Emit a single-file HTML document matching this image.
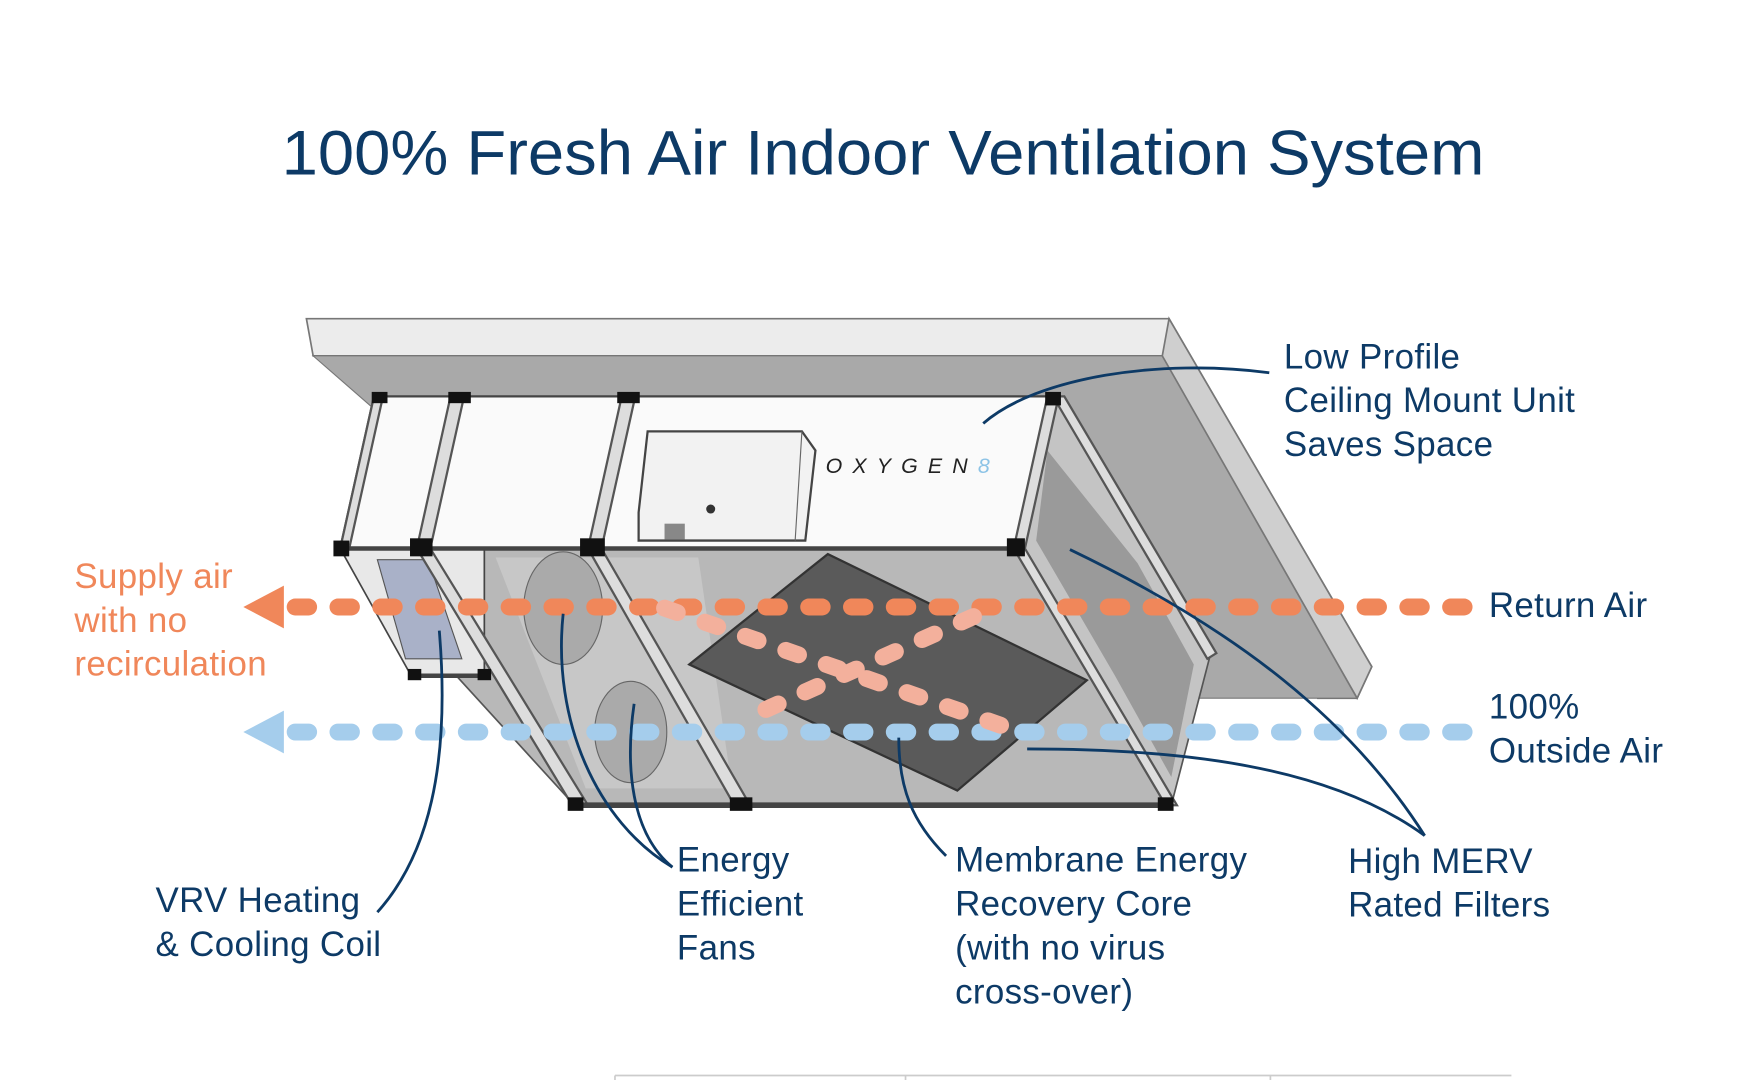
<!DOCTYPE html>
<html><head><meta charset="utf-8"><style>
html,body{margin:0;padding:0;background:#fff;}
svg{display:block;}
text{font-family:"Liberation Sans",sans-serif;}
</style></head><body>
<svg width="1757" height="1080" viewBox="0 0 1560 959" xmlns="http://www.w3.org/2000/svg">
<rect width="1560" height="959" fill="#fff"/>
<text x="250" y="155" font-size="56" fill="#0d3a66" textLength="1068" lengthAdjust="spacingAndGlyphs">100% Fresh Air Indoor Ventilation System</text>

<!-- ceiling slab -->
<polygon points="272,283 1038,283 1218,592 1205,620 1170,620 1032,316 278,316" fill="#ececec" stroke="#777" stroke-width="1.5"/>
<polygon points="278,316 1032,316 1205,620 1060,620 340,370" fill="#a9a9a9" stroke="#777" stroke-width="1"/>
<polygon points="1038,283 1218,592 1205,620 1032,316" fill="#cfcfcf" stroke="#777" stroke-width="1.5"/>

<!-- lower interior -->
<polygon points="302,487 905,487 1040,715 510,715" fill="#b8b8b8" stroke="#555" stroke-width="1.5"/>
<polygon points="440,495 620,495 650,700 520,700" fill="#c7c7c7"/>
<polygon points="905,487 935,352 1075,580 1040,715" fill="#c4c4c4" stroke="#555" stroke-width="1.5"/>
<polygon points="930,400 1010,500 1060,590 1040,690 990,600 920,480" fill="#9a9a9a"/>
<polygon points="302,487 430,487 430,600 365,600" fill="#e8e8e8" stroke="#444" stroke-width="1.5"/>
<polygon points="335,497 380,497 410,585 360,585" fill="#a9b1c8" stroke="#555"/>
<ellipse cx="500" cy="540" rx="35" ry="50" fill="#aaa" stroke="#666"/>
<ellipse cx="560" cy="650" rx="32" ry="45" fill="#aaa" stroke="#666"/>

<!-- membrane core -->
<polygon points="612,590 735,492 965,604 850,702" fill="#5a5a5a" stroke="#333" stroke-width="2"/>

<!-- top white box -->
<polygon points="332,352 935,352 905,487 302,487" fill="#fafafa" stroke="#444" stroke-width="2"/>
<g stroke="#555" stroke-width="2" fill="#ddd">
<polygon points="332,352 340,352 310,487 302,487"/>
<polygon points="400,352 412,352 382,487 370,487"/>
<polygon points="552,352 564,352 534,487 522,487"/>
<polygon points="930,352 940,352 910,487 900,487"/>
<polygon points="370,487 382,487 522,715 508,715"/>
<polygon points="522,487 534,487 666,715 652,715"/>
<polygon points="900,487 910,487 1045,715 1035,715"/>
<polygon points="935,352 945,352 1080,580 1072,585"/>
</g>
<line x1="510" y1="715" x2="1040" y2="715" stroke="#444" stroke-width="5"/>
<line x1="302" y1="487" x2="905" y2="487" stroke="#444" stroke-width="4"/>
<line x1="365" y1="600" x2="430" y2="600" stroke="#444" stroke-width="4"/>
<g fill="#111">
<rect x="330" y="348" width="14" height="10"/><rect x="398" y="348" width="20" height="10"/><rect x="548" y="348" width="20" height="10"/><rect x="928" y="348" width="14" height="12"/>
<rect x="296" y="480" width="14" height="14"/><rect x="364" y="478" width="20" height="16"/><rect x="515" y="478" width="22" height="16"/><rect x="894" y="478" width="16" height="16"/>
<rect x="504" y="708" width="14" height="12"/><rect x="648" y="708" width="20" height="12"/><rect x="1028" y="708" width="14" height="12"/>
<rect x="362" y="594" width="12" height="10"/><rect x="424" y="594" width="12" height="10"/>
</g>
<polygon points="575,383 712,383 724,400 715,480 567,480 567,455" fill="#f2f2f2" stroke="#444" stroke-width="2"/>
<line x1="712" y1="383" x2="706" y2="480" stroke="#666"/>
<circle cx="631" cy="452" r="4" fill="#333"/>
<rect x="590" y="465" width="18" height="14" fill="#888"/>
<text x="733" y="420" font-size="19" font-style="italic" fill="#222" letter-spacing="9">OXYGEN<tspan fill="#8cc3e6">8</tspan></text>

<!-- air streams -->
<line x1="262" y1="539" x2="1300" y2="539" stroke="#f0875a" stroke-width="15" stroke-linecap="round" stroke-dasharray="12 26"/>
<polygon points="216,539 252,520 252,558" fill="#f0875a"/>
<line x1="262" y1="650" x2="1300" y2="650" stroke="#a5cdec" stroke-width="15" stroke-linecap="round" stroke-dasharray="12 26"/>
<polygon points="216,650 252,631 252,669" fill="#a5cdec"/>
<line x1="590" y1="540" x2="900" y2="648" stroke="#f3b09c" stroke-width="15" stroke-linecap="round" stroke-dasharray="12 26"/>
<line x1="680" y1="630" x2="870" y2="545" stroke="#f3b09c" stroke-width="15" stroke-linecap="round" stroke-dasharray="12 26"/>

<!-- leader lines -->
<g stroke="#0d3a66" stroke-width="2.5" fill="none">
<path d="M1127,331 C1030,318 920,335 873,376"/>
<path d="M335,810 C380,760 400,680 390,560"/>
<path d="M597,770 C530,730 490,640 500,545"/>
<path d="M597,770 C560,740 555,680 563,625"/>
<path d="M840,760 C810,730 798,700 798,655"/>
<path d="M1265,742 C1200,640 1100,560 950,488"/>
<path d="M1265,742 C1180,680 1050,665 912,665"/>
</g>

<!-- labels -->
<g font-size="31" fill="#0d3a66" letter-spacing="0.3">
<text x="1140" y="327">Low Profile</text><text x="1140" y="366">Ceiling Mount Unit</text><text x="1140" y="405">Saves Space</text>
<text x="1322" y="548">Return Air</text>
<text x="1322" y="638">100%</text><text x="1322" y="677">Outside Air</text>
<text x="138" y="810">VRV Heating</text><text x="138" y="849">&amp; Cooling Coil</text>
<text x="601" y="774">Energy</text><text x="601" y="813">Efficient</text><text x="601" y="852">Fans</text>
<text x="848" y="774">Membrane Energy</text><text x="848" y="813">Recovery Core</text><text x="848" y="852">(with no virus</text><text x="848" y="891">cross-over)</text>
<text x="1197" y="775">High MERV</text><text x="1197" y="814">Rated Filters</text>
</g>
<g font-size="31" fill="#f0875a" letter-spacing="0.3">
<text x="66" y="522">Supply air</text><text x="66" y="561">with no</text><text x="66" y="600">recirculation</text>
</g>

<g stroke="#ccc" stroke-width="1.5">
<line x1="546" y1="955" x2="1342" y2="955"/>
<line x1="546" y1="955" x2="546" y2="959"/><line x1="804" y1="955" x2="804" y2="959"/><line x1="1128" y1="955" x2="1128" y2="959"/>
</g>
</svg>
</body></html>
